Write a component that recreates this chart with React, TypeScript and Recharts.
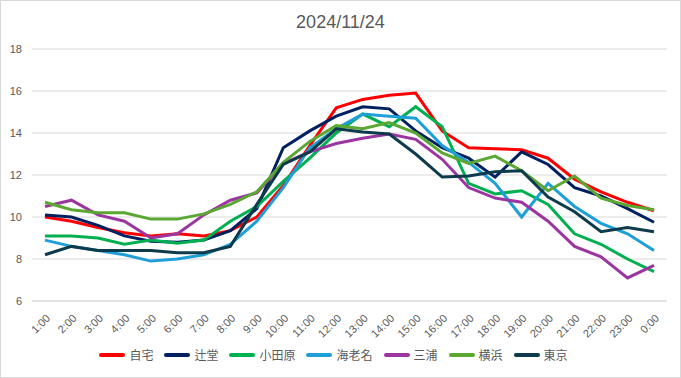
import React from "react";
import { LineChart, Line, XAxis, YAxis, CartesianGrid, Legend } from "recharts";

const hours = [
  "1:00", "2:00", "3:00", "4:00", "5:00", "6:00", "7:00", "8:00",
  "9:00", "10:00", "11:00", "12:00", "13:00", "14:00", "15:00", "16:00",
  "17:00", "18:00", "19:00", "20:00", "21:00", "22:00", "23:00", "0:00",
];

const jitaku = [10.0, 9.8, 9.5, 9.25, 9.1, 9.2, 9.1, 9.35, 10.0, 11.5, 13.4, 15.2, 15.6, 15.8, 15.9, 14.1, 13.3, 13.25, 13.2, 12.8, 11.8, 11.2, 10.7, 10.3];
const tsujido = [10.1, 10.0, 9.6, 9.1, 8.85, 8.8, 8.9, 9.35, 10.4, 13.3, 14.1, 14.8, 15.25, 15.15, 14.1, 13.3, 12.8, 11.9, 13.1, 12.5, 11.4, 11.0, 10.4, 9.75];
const odawara = [9.1, 9.1, 9.0, 8.7, 8.9, 8.75, 8.9, 9.8, 10.5, 11.7, 12.8, 14.0, 14.9, 14.3, 15.25, 14.3, 11.6, 11.1, 11.25, 10.6, 9.2, 8.7, 8.0, 7.4];
const ebina = [8.9, 8.6, 8.4, 8.2, 7.9, 8.0, 8.2, 8.7, 9.8, 11.4, 13.3, 14.2, 14.9, 14.8, 14.7, 13.4, 12.6, 11.6, 10.0, 11.6, 10.5, 9.7, 9.2, 8.4];
const miura = [10.5, 10.8, 10.1, 9.8, 9.0, 9.2, 10.1, 10.8, 11.15, 12.55, 13.1, 13.5, 13.75, 13.95, 13.7, 12.75, 11.4, 10.9, 10.7, 9.8, 8.6, 8.1, 7.1, 7.7];
const yokohama = [10.7, 10.35, 10.2, 10.2, 9.9, 9.9, 10.15, 10.6, 11.2, 12.6, 13.6, 14.35, 14.2, 14.5, 14.0, 13.05, 12.55, 12.9, 12.2, 11.25, 11.95, 10.9, 10.55, 10.35];
const tokyo = [8.2, 8.6, 8.4, 8.4, 8.4, 8.3, 8.3, 8.6, 10.6, 12.5, 13.1, 14.2, 14.05, 13.95, 13.0, 11.9, 11.95, 12.15, 12.2, 10.95, 10.25, 9.3, 9.5, 9.3];

const seriesNames = ["自宅", "辻堂", "小田原", "海老名", "三浦", "横浜", "東京"];
const seriesValues = [jitaku, tsujido, odawara, ebina, miura, yokohama, tokyo];
const seriesColors = ["#ff0000", "#002060", "#00b050", "#1e9fd8", "#9b35a0", "#5aa832", "#0d3b4b"];

const yTicks = [6, 8, 10, 12, 14, 16, 18];

const data = hours.map((h, i) => {
  const row: Record<string, string | number> = { name: h };
  seriesNames.forEach((s, j) => {
    row[s] = seriesValues[j][i];
  });
  return row;
});

const textColor = "#595959";

function HourTick(props: any) {
  const { x, y, payload } = props;
  return (
    <g transform={`translate(${x + 3},${y + 7})`}>
      <text
        x={0}
        y={0}
        dy={4}
        textAnchor="end"
        transform="rotate(-45)"
        fill={textColor}
        fontSize={11}
      >
        {payload.value}
      </text>
    </g>
  );
}

// legend drawn in series order (recharts would sort it by name)
function renderLegend() {
  return (
    <div style={{ display: "flex", justifyContent: "center", gap: 11 }}>
      {seriesNames.map((s, j) => (
        <div key={s} style={{ display: "flex", alignItems: "center" }}>
          <span
            style={{
              display: "inline-block",
              width: 26,
              height: 4,
              background: seriesColors[j],
              borderRadius: 2,
              marginRight: 4,
            }}
          />
          <span style={{ fontSize: 12, color: textColor }}>{s}</span>
        </div>
      ))}
    </div>
  );
}

export default function App() {
  return (
    <div
      style={{
        position: "absolute",
        left: 0,
        top: 0,
        width: 681,
        height: 378,
        background: "#fff",
        fontFamily: '"Liberation Sans", "Noto Sans CJK JP", sans-serif',
      }}
    >
      <div
        style={{
          position: "absolute",
          top: 12,
          width: "100%",
          textAlign: "center",
          fontSize: 18,
          color: textColor,
        }}
      >
        2024/11/24
      </div>
      <LineChart
        width={681}
        height={378}
        data={data}
        margin={{ top: 49, right: 14, left: 0, bottom: 0 }}
      >
        <CartesianGrid vertical={false} stroke="#d9d9d9" />
        <XAxis
          dataKey="name"
          interval={0}
          height={31}
          padding={{ left: 13, right: 13 }}
          tickLine={false}
          axisLine={{ stroke: "#d9d9d9" }}
          tick={<HourTick />}
        />
        <YAxis
          width={32}
          domain={[6, 18]}
          ticks={yTicks}
          tickLine={false}
          axisLine={false}
          tickMargin={4}
          tick={{ fill: textColor, fontSize: 11 }}
        />
        <Legend
          verticalAlign="bottom"
          height={46}
          wrapperStyle={{ top: 346, bottom: "auto" }}
          content={renderLegend}
        />
        {seriesNames.map((s, j) => (
          <Line
            key={s}
            type="linear"
            dataKey={s}
            stroke={seriesColors[j]}
            strokeWidth={3}
            dot={false}
            isAnimationActive={false}
          />
        ))}
      </LineChart>
      <div
        style={{
          position: "absolute",
          inset: 0,
          border: "1px solid #d9d9d9",
          pointerEvents: "none",
        }}
      />
    </div>
  );
}
